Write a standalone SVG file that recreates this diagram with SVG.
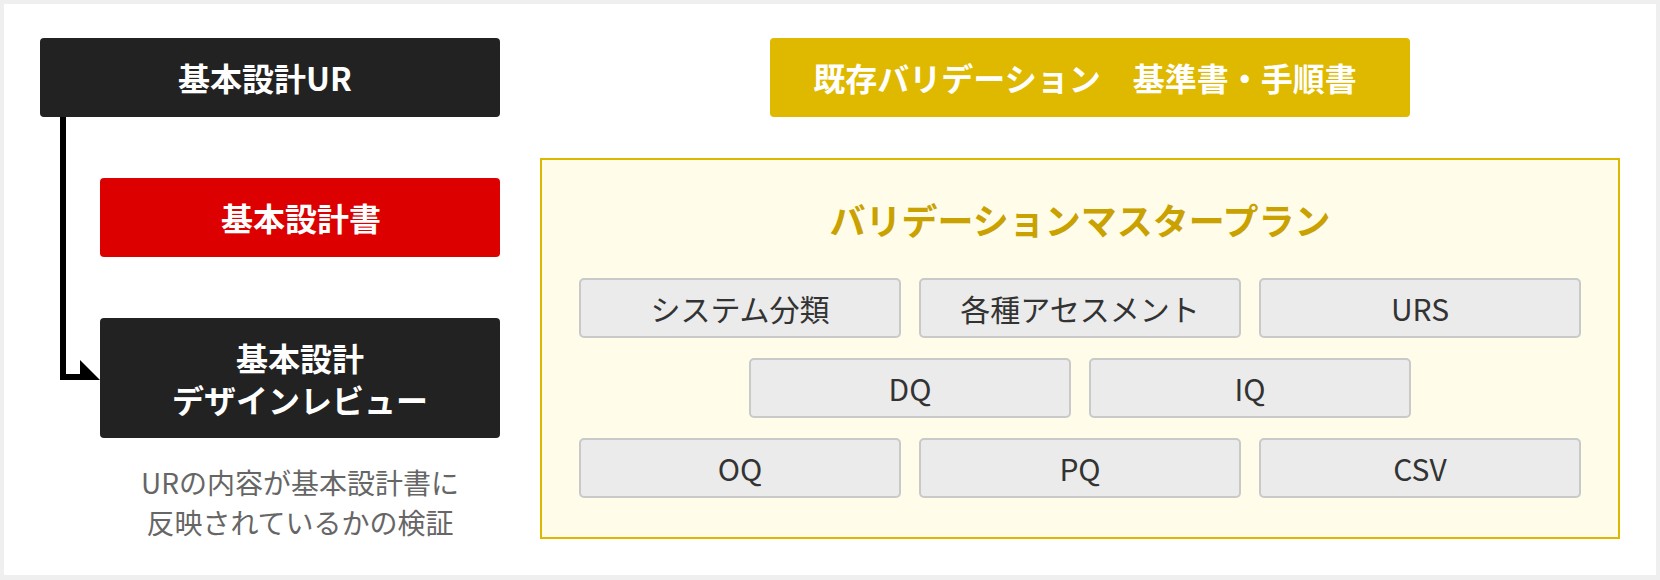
<svg xmlns="http://www.w3.org/2000/svg" width="1660" height="580" viewBox="0 0 1660 580">
<style>
text{font-family:"Noto Sans CJK JP","Noto Sans",sans-serif;text-anchor:middle;dominant-baseline:central}
.w{fill:#ffffff;font-weight:700;font-size:32px}
.dark{fill:#222222}
.item rect{fill:#ebebeb;stroke:#c9c9c9;stroke-width:2}
.item text{fill:#333333;font-size:30px;font-weight:400}
.note{fill:#666666;font-size:28px;font-weight:400}
</style>
<rect x="0" y="0" width="1660" height="580" fill="#efefef"/>
<rect x="4" y="4" width="1652" height="571" fill="#ffffff"/>

<g id="connectors">
<path d="M63,117 V377 H84" fill="none" stroke="#000000" stroke-width="6" stroke-linejoin="miter"/>
<polygon points="80,360 80,380 100,380" fill="#000000"/>
</g>

<g id="ur">
<rect class="dark" x="40" y="38" width="460" height="79" rx="4"/>
<text class="w" x="265" y="77">基本設計UR</text>
</g>
<g id="design-doc">
<rect x="100" y="178" width="400" height="79" rx="4" fill="#dc0000"/>
<text class="w" x="301" y="217">基本設計書</text>
</g>
<g id="design-review">
<rect class="dark" x="100" y="318" width="400" height="120" rx="4"/>
<text class="w" x="300" y="357">基本設計</text>
<text class="w" x="300" y="399">デザインレビュー</text>
</g>
<g id="note">
<text class="note" x="300" y="482">URの内容が基本設計書に</text>
<text class="note" x="300" y="522">反映されているかの検証</text>
</g>

<g id="existing">
<rect x="770" y="38" width="640" height="79" rx="4" fill="#dfb900"/>
<text class="w" x="1085" y="77">既存バリデーション　基準書・手順書</text>
</g>

<g id="vmp">
<rect x="541" y="159" width="1078" height="379" fill="#fffce9" stroke="#dcb800" stroke-width="2"/>
<text x="1080" y="219" fill="#c9a100" font-size="36" font-weight="700">バリデーションマスタープラン</text>
</g>

<g id="sys" class="item"><rect x="580" y="279" width="320" height="58" rx="4"/><text x="740" y="308">システム分類</text></g>
<g id="assess" class="item"><rect x="920" y="279" width="320" height="58" rx="4"/><text x="1080" y="308">各種アセスメント</text></g>
<g id="urs" class="item"><rect x="1260" y="279" width="320" height="58" rx="4"/><text x="1420" y="308">URS</text></g>
<g id="dq" class="item"><rect x="750" y="359" width="320" height="58" rx="4"/><text x="910" y="388">DQ</text></g>
<g id="iq" class="item"><rect x="1090" y="359" width="320" height="58" rx="4"/><text x="1250" y="388">IQ</text></g>
<g id="oq" class="item"><rect x="580" y="439" width="320" height="58" rx="4"/><text x="740" y="468">OQ</text></g>
<g id="pq" class="item"><rect x="920" y="439" width="320" height="58" rx="4"/><text x="1080" y="468">PQ</text></g>
<g id="csv" class="item"><rect x="1260" y="439" width="320" height="58" rx="4"/><text x="1420" y="468">CSV</text></g>
</svg>
